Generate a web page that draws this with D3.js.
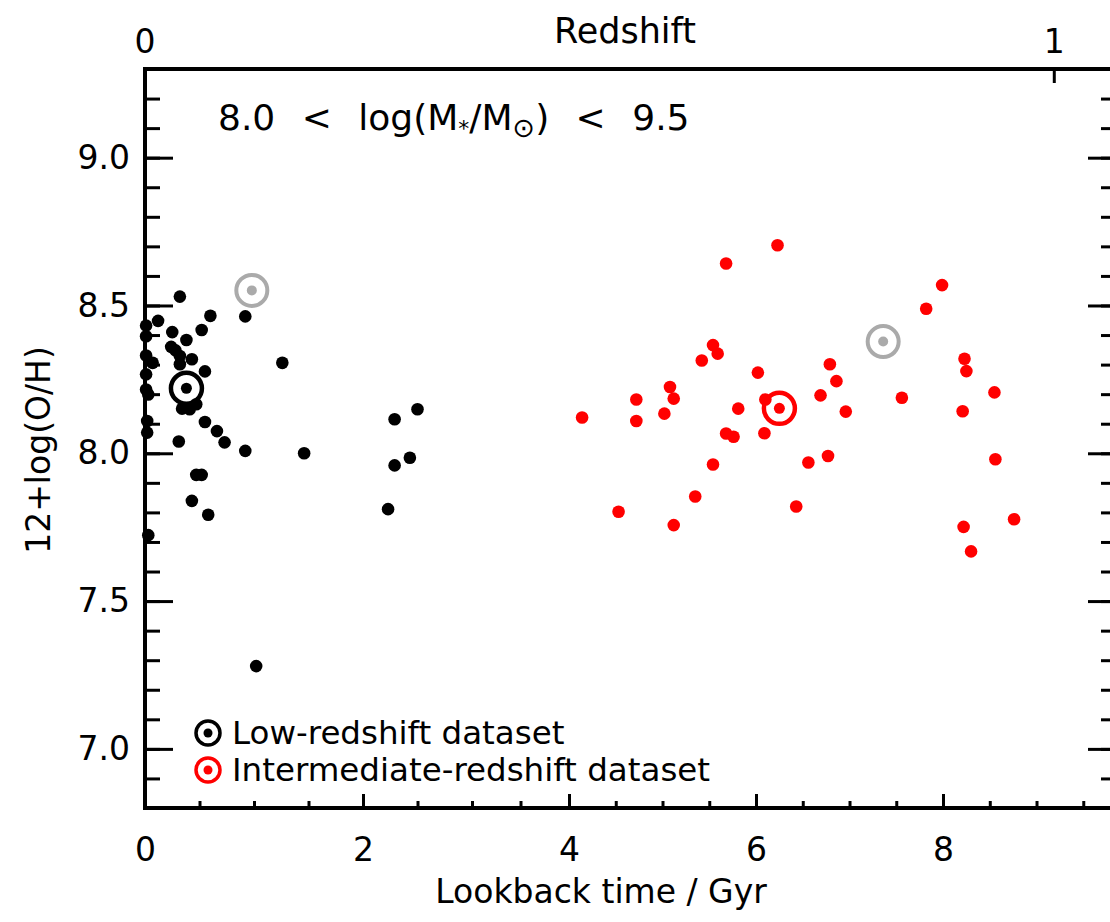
<!DOCTYPE html>
<meta charset="utf-8">

<head>
  <title>Metallicity against lookback time</title>
  <style>
    body {
      margin: 0;
      background: #fff;
    }

    #viz {
      display: block;
    }

    text {
      font-family: "DejaVu Sans", sans-serif;
      fill: #000;
    }
  </style>
</head>

<body>
  <svg id="viz" width="1110" height="922"></svg>

  <script src="https://d3js.org/d3.v7.min.js"></script>

  <script>
    // low-redshift galaxies (black)
    var lowTime = [0.32, 0.60, 0.92, 0.12, 0.52, 0.01, 0.25, 0.38, 0.24, 0.28, 0.32, 0.43, 1.26, 0.55, 0.32,
      0.01, 0.01, 0.07, 0.01, 0.01, 0.03, 0.34, 0.47, 0.41, 0.55, 0.66, 0.73, 0.31, 0.02, 0.02,
      0.92, 1.46, 2.29, 2.43, 0.47, 0.52, 0.43, 0.58, 2.23, 0.03, 1.02, 2.29, 2.50];
    var lowOH = [8.53, 8.465, 8.463, 8.448, 8.417, 8.432, 8.41, 8.383, 8.36, 8.348, 8.329, 8.318, 8.306, 8.277, 8.301,
      8.396, 8.331, 8.306, 8.267, 8.216, 8.199, 8.151, 8.166, 8.149, 8.106, 8.075, 8.037, 8.04, 8.109, 8.07,
      8.008, 8.0, 7.959, 7.985, 7.927, 7.927, 7.839, 7.792, 7.811, 7.723, 7.28, 8.115, 8.149];

    // intermediate-redshift galaxies (red)
    var midTime = [6.23, 5.68, 5.54, 5.59, 5.42, 6.02, 6.79, 6.86, 5.08, 5.12, 4.72, 6.69, 5.81, 6.96,
      4.14, 4.72, 5.02, 5.68, 5.76, 6.09, 5.54, 6.56, 6.77, 5.35, 6.43, 4.53, 5.12, 6.10,
      7.99, 7.82, 7.56, 8.23, 8.25, 8.55, 8.21, 8.56, 8.76, 8.22, 8.30];
    var midOH = [8.704, 8.642, 8.366, 8.337, 8.314, 8.273, 8.301, 8.244, 8.224, 8.185, 8.182, 8.196, 8.151, 8.141,
      8.121, 8.109, 8.134, 8.067, 8.056, 8.068, 7.962, 7.969, 7.991, 7.854, 7.82, 7.802, 7.757, 8.182,
      8.569, 8.489, 8.188, 8.32, 8.278, 8.206, 8.142, 7.98, 7.777, 7.751, 7.668];

    // dataset means (ringed) and the grey alternative means
    var meanTime = [0.38, 6.25];
    var meanOH = [8.22, 8.152];
    var meanColor = ["#000", "#f00"];
    var altTime = [0.98, 7.36];
    var altOH = [8.551, 8.378];

    var xTicks = [0, 2, 4, 6, 8];
    var xMinor = d3.range(0, 10, 0.5);
    var yTicks = [7.0, 7.5, 8.0, 8.5, 9.0];
    var yMinor = d3.range(6.9, 9.25, 0.1);
    var redshiftTicks = [0, 1];
    var redshiftTime = [0, 9.19];

    var legendLabels = ["Low-redshift dataset", "Intermediate-redshift dataset"];

    function drawChart() {
      var svg = d3.select("#viz");
      var mLeft = 145, mRight = 1116, mTop = 69, mBottom = 808;

      // the scanned figure is stretched a little between 0 and 3 Gyr
      var x = d3.scaleLinear().domain([0, 3, 4, 9.85]).range([mLeft, 472, 569, mRight]);
      var y = d3.scaleLinear().domain([6.8, 9.3]).range([mBottom, mTop]);

      function styleAxis(g, width) {
        g.select(".domain").remove();
        g.selectAll("line").attr("stroke", "#000").attr("stroke-width", width);
      }

      // bottom axis
      svg.append("g")
        .attr("transform", "translate(0," + mBottom + ")")
        .call(d3.axisBottom(x).tickValues(xMinor).tickSize(-7).tickFormat(""))
        .call(styleAxis, 3);
      svg.append("g")
        .attr("transform", "translate(0," + mBottom + ")")
        .call(d3.axisBottom(x).tickValues(xTicks).tickSize(-14).tickPadding(30).tickFormat(d3.format("d")))
        .call(styleAxis, 3)
        .selectAll("text").style("font-size", "33px");

      // left axis
      svg.append("g")
        .attr("transform", "translate(" + mLeft + ",0)")
        .call(d3.axisLeft(y).tickValues(yMinor).tickSize(-15).tickFormat(""))
        .call(styleAxis, 3);
      svg.append("g")
        .attr("transform", "translate(" + mLeft + ",0)")
        .call(d3.axisLeft(y).tickValues(yTicks).tickSize(-28).tickPadding(15).tickFormat(d3.format(".1f")))
        .call(styleAxis, 3)
        .selectAll("text").style("font-size", "33px");

      // right axis mirrors the left one, its line sits just past the picture edge
      svg.append("g")
        .attr("transform", "translate(" + mRight + ",0)")
        .call(d3.axisRight(y).tickValues(yMinor).tickSize(-15).tickFormat(""))
        .call(styleAxis, 3);
      svg.append("g")
        .attr("transform", "translate(" + mRight + ",0)")
        .call(d3.axisRight(y).tickValues(yTicks).tickSize(-28).tickFormat(""))
        .call(styleAxis, 3);

      // top axis: redshift
      var zTicks = redshiftTicks.map(function (z, i) { return { z: z, t: redshiftTime[i] }; });
      var topAxis = svg.append("g");
      topAxis.selectAll("line")
        .data(zTicks.filter(function (d) { return d.z > 0; }))
        .join("line")
        .attr("x1", function (d) { return x(d.t); })
        .attr("x2", function (d) { return x(d.t); })
        .attr("y1", mTop)
        .attr("y2", mTop + 14)
        .attr("stroke", "#000")
        .attr("stroke-width", 3);
      topAxis.selectAll("text")
        .data(zTicks)
        .join("text")
        .attr("x", function (d) { return x(d.t); })
        .attr("y", mTop - 16)
        .attr("text-anchor", "middle")
        .style("font-size", "33px")
        .text(function (d) { return d.z; });

      // frame
      svg.append("rect")
        .attr("x", mLeft)
        .attr("y", mTop)
        .attr("width", mRight - mLeft)
        .attr("height", mBottom - mTop)
        .attr("fill", "none")
        .attr("stroke", "#000")
        .attr("stroke-width", 4);

      // titles
      svg.append("text")
        .attr("x", 601)
        .attr("y", 903)
        .attr("text-anchor", "middle")
        .style("font-size", "33px")
        .text("Lookback time / Gyr");
      svg.append("text")
        .attr("x", 625)
        .attr("y", 43)
        .attr("text-anchor", "middle")
        .style("font-size", "35px")
        .text("Redshift");
      svg.append("text")
        .attr("transform", "translate(50,450) rotate(-90)")
        .attr("text-anchor", "middle")
        .style("font-size", "33px")
        .text("12+log(O/H)");

      // mass range
      var note = svg.append("text")
        .attr("x", 218)
        .attr("y", 130)
        .style("font-size", "36px")
        .style("word-spacing", "15px")
        .attr("xml:space", "preserve");
      note.append("tspan").text("8.0 < log(M");
      note.append("tspan").attr("baseline-shift", "-25%").style("font-size", "22px").text("*");
      note.append("tspan").text("/M");
      note.append("tspan").attr("baseline-shift", "-25%").style("font-size", "27px").text("\u2299");
      note.append("tspan").text(") < 9.5");

      // data points
      var low = lowTime.map(function (t, i) { return [t, lowOH[i]]; });
      var mid = midTime.map(function (t, i) { return [t, midOH[i]]; });

      svg.append("g").selectAll("circle")
        .data(low)
        .join("circle")
        .attr("cx", function (d) { return x(d[0]); })
        .attr("cy", function (d) { return y(d[1]); })
        .attr("r", 6.3)
        .attr("fill", "#000");

      svg.append("g").selectAll("circle")
        .data(mid)
        .join("circle")
        .attr("cx", function (d) { return x(d[0]); })
        .attr("cy", function (d) { return y(d[1]); })
        .attr("r", 6.3)
        .attr("fill", "#f00");

      function ringMarker(g, color, r, dot, width) {
        g.append("circle").attr("r", r).attr("fill", "none").attr("stroke", color).attr("stroke-width", width);
        g.append("circle").attr("r", dot).attr("fill", color);
      }

      altTime.forEach(function (t, i) {
        svg.append("g")
          .attr("transform", "translate(" + x(t) + "," + y(altOH[i]) + ")")
          .call(ringMarker, "#aaa", 15.5, 5, 4);
      });
      meanTime.forEach(function (t, i) {
        svg.append("g")
          .attr("transform", "translate(" + x(t) + "," + y(meanOH[i]) + ")")
          .call(ringMarker, meanColor[i], 15.5, 5.5, 4.5);
      });

      // legend
      var legend = svg.append("g").attr("transform", "translate(208,733)");
      legendLabels.forEach(function (label, i) {
        var row = legend.append("g").attr("transform", "translate(0," + i * 37 + ")");
        row.append("g").call(ringMarker, meanColor[i], 12, 4.5, 3.5);
        row.append("text")
          .attr("x", 24)
          .attr("y", 11)
          .style("font-size", "32.5px")
          .text(label);
      });
    }

    drawChart();
  </script>
</body>

</html>
